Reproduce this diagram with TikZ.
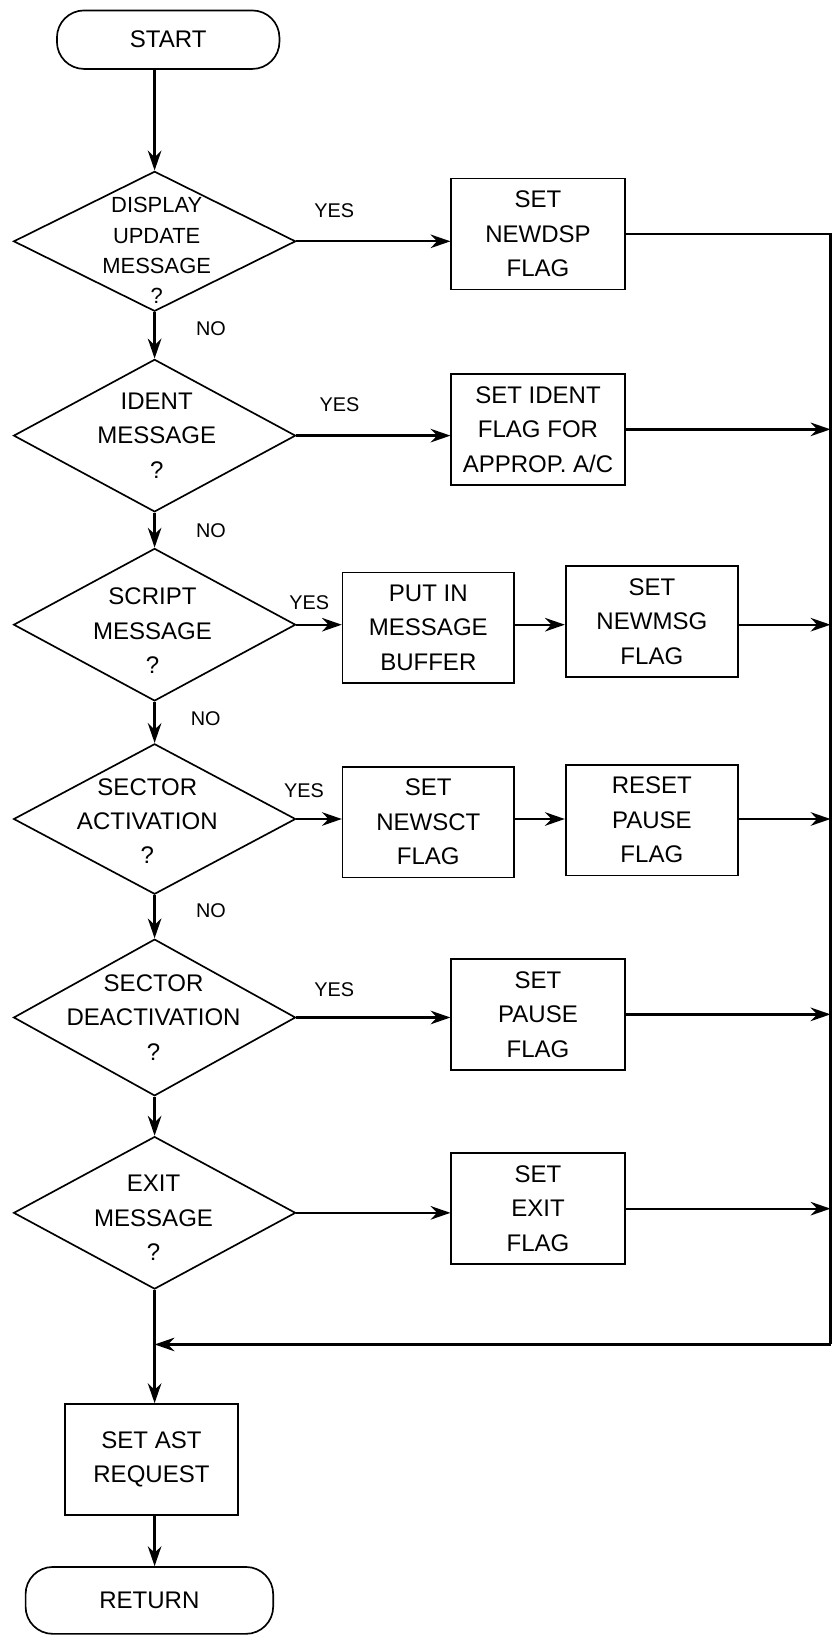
\documentclass[tikz,border=0pt]{standalone}
\usepackage{fontspec}
\setmainfont{Liberation Sans}
\usetikzlibrary{shapes.geometric,arrows.meta}

\begin{document}
\begin{tikzpicture}[x=1pt,y=-1pt,
  txt/.style={font=\fontsize{23}{33}\selectfont, align=center, inner sep=0pt},
  lbl/.style={font=\fontsize{19}{22}\selectfont, inner sep=0pt},
  decision/.style={draw, diamond, line width=1.6pt, inner sep=0pt, minimum width=270pt},
  proc/.style={draw, rectangle, line width=1.6pt, minimum width=166pt, minimum height=106pt,
    font=\fontsize{23}{33}\selectfont, align=center, inner sep=0pt},
  term/.style={draw, rectangle, rounded corners=26pt, line width=1.6pt,
    font=\fontsize{23}{33}\selectfont, inner sep=0pt},
  flow/.style={line width=2.2pt, -{Stealth[length=19pt,width=13pt]}},
  plain/.style={line width=2.2pt}]

\useasboundingbox (0,0) rectangle (798,1568);

% terminals
\node[term, minimum width=213pt, minimum height=56pt] (start) at (161,38) {START};
\node[term, minimum width=237pt, minimum height=64pt] (ret) at (143,1532) {RETURN};

% decision diamonds and their texts
\node[decision, minimum height=134pt] (d1) at (148,231) {};
\node[txt, font=\fontsize{21}{29}\selectfont] (d1t) at (150,240) {DISPLAY\\UPDATE\\MESSAGE\\?};
\node[decision, minimum height=146pt] (d2) at (148,417) {};
\node[txt] (d2t) at (150,417) {IDENT\\MESSAGE\\?};
\node[decision, minimum height=146pt] (d3) at (148,598) {};
\node[txt] (d3t) at (146,604) {SCRIPT\\MESSAGE\\?};
\node[decision, minimum height=144pt] (d4) at (148,784) {};
\node[txt] (d4t) at (141,786) {SECTOR\\ACTIVATION\\?};
\node[decision, minimum height=150pt] (d5) at (148,974) {};
\node[txt] (d5t) at (147,974) {SECTOR\\DEACTIVATION\\?};
\node[decision, minimum height=146pt] (d6) at (148,1161) {};
\node[txt] (d6t) at (147,1166) {EXIT\\MESSAGE\\?};

% process boxes
\node[proc] (b1) at (515,224) {SET\\NEWDSP\\FLAG};
\node[proc] (b2) at (515,411) {SET IDENT\\FLAG FOR\\APPROP. A/C};
\node[proc, minimum width=164pt] (b3a) at (410,601) {PUT IN\\MESSAGE\\BUFFER};
\node[proc, minimum width=165pt] (b3b) at (624,595) {SET\\NEWMSG\\FLAG};
\node[proc, minimum width=164pt] (b4a) at (410,787) {SET\\NEWSCT\\FLAG};
\node[proc, minimum width=165pt] (b4b) at (624,785) {RESET\\PAUSE\\FLAG};
\node[proc] (b5) at (515,971) {SET\\PAUSE\\FLAG};
\node[proc] (b6) at (515,1157) {SET\\EXIT\\FLAG};
\node[proc] (b7) at (145,1397) {SET AST\\REQUEST};

% branch labels
\node[lbl] (y1) at (320,202) {YES};
\node[lbl] (y2) at (325,387) {YES};
\node[lbl] (y3) at (296,577) {YES};
\node[lbl] (y4) at (291,757) {YES};
\node[lbl] (y5) at (320,947) {YES};
\node[lbl] (n1) at (202,315) {NO};
\node[lbl] (n2) at (202,508) {NO};
\node[lbl] (n3) at (197,688) {NO};
\node[lbl] (n4) at (202,872) {NO};

% collecting rail on the right
\coordinate (railtop) at (795,225);
\coordinate (railbot) at (795,1287);
\coordinate (join) at (148,1287);

% main chain
\draw[flow] (d1.north |- start.south) -- (d1.north);
\draw[flow] (d1.south) -- (d2.north);
\draw[flow] (d2.south) -- (d3.north);
\draw[flow] (d3.south) -- (d4.north);
\draw[flow] (d4.south) -- (d5.north);
\draw[flow] (d5.south) -- (d6.north);
\draw[flow] (d6.south) -- (b7.north -| d6.south);
\draw[flow] (b7.south -| d6.south) -- (ret.north -| d6.south);

% yes branches
\draw[flow] (d1.east) -- (d1.east -| b1.west);
\draw[flow] (d2.east) -- (d2.east -| b2.west);
\draw[flow] (d3.east) -- (d3.east -| b3a.west);
\draw[flow] (b3a.east |- d3.east) -- (d3.east -| b3b.west);
\draw[flow] (d4.east) -- (d4.east -| b4a.west);
\draw[flow] (b4a.east |- d4.east) -- (d4.east -| b4b.west);
\draw[flow] (d5.east) -- (d5.east -| b5.west);
\draw[flow] (d6.east) -- (d6.east -| b6.west);

% into the rail
\draw[plain] (b1.east) -- (b1.east -| railtop) -- (railbot);
\draw[flow] (b2.east) -- (b2.east -| railtop);
\draw[flow] (b3b.east |- d3.east) -- (d3.east -| railtop);
\draw[flow] (b4b.east |- d4.east) -- (d4.east -| railtop);
\draw[flow] (b5.east) -- (b5.east -| railtop);
\draw[flow] (b6.east) -- (b6.east -| railtop);
\draw[flow] (railbot) -- (join);

\end{tikzpicture}
\end{document}
